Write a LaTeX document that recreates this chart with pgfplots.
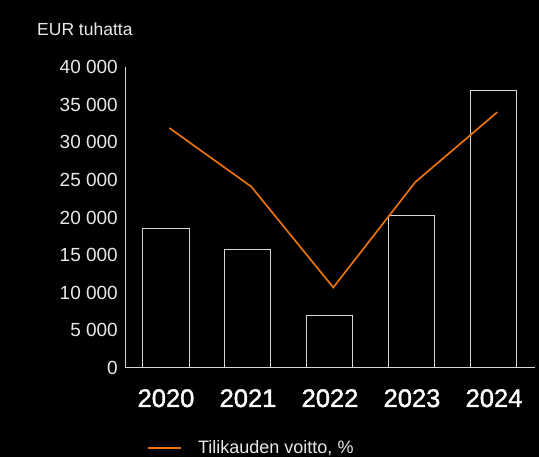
\documentclass[border=0pt]{standalone}
\usepackage{pgfplots}
\pgfplotsset{compat=1.18}
\usepackage{fontspec}
\setmainfont{Liberation Sans}
\newfontfamily\yearfont[FakeBold=1.5]{Liberation Sans}

\definecolor{txt}{RGB}{232,232,232}
\definecolor{axgray}{RGB}{215,215,215}
\definecolor{voitto}{RGB}{232,114,12}

\begin{document}
\begin{tikzpicture}
\useasboundingbox (0,0) rectangle (539pt,457pt);
\fill[black] (0,0) rectangle (539pt,457pt);

\node[anchor=base west, inner sep=0pt, text=txt, font=\fontsize{17.5}{20}\selectfont]
  at (37pt,421pt) {EUR tuhatta};

% bars (EUR thousands)
\begin{axis}[
    at={(125pt,89pt)},
    anchor=south west,
    scale only axis,
    width=410pt,
    height=301pt,
    xmin=-0.5, xmax=4.5,
    ymin=0, ymax=40000,
    axis x line=bottom,
    axis y line=left,
    axis line style={axgray, line width=1pt, -},
    xtick={0,1,2,3,4},
    xticklabels={2020,2021,2022,2023,2024},
    ytick={0,5000,10000,15000,20000,25000,30000,35000,40000},
    major tick length=0pt,
    scaled y ticks=false,
    /pgf/number format/assume math mode=true,
    /pgf/number format/1000 sep={\ },
    yticklabel style={text=txt, inner sep=0pt, anchor=east, xshift=-7pt,
        font=\fontsize{19}{20}\selectfont},
    xticklabel style={text=white, inner sep=0pt, anchor=north, yshift=-21pt,
        font=\yearfont\fontsize{25.5}{28}\selectfont},
    ybar,
    bar width=46pt,
]
\addplot[draw=axgray, fill=black, line width=1pt] coordinates {
(0,18600)
(1,15700)
(2,7000)
(3,20200)
(4,36900)
};
\end{axis}

% profit line (%), hidden secondary scale
\begin{axis}[
    at={(125pt,89pt)},
    anchor=south west,
    scale only axis,
    width=410pt,
    height=301pt,
    xmin=-0.5, xmax=4.5,
    ymin=0, ymax=40,
    hide axis,
    legend style={
        at={(0.053,-0.266)},
        anchor=west,
        draw=none,
        fill=none,
        inner sep=0pt,
        outer sep=0pt,
        nodes={inner sep=0pt, text=txt, font=\fontsize{18}{20}\selectfont},
        /tikz/every odd column/.append style={column sep=16.7pt},
    },
    legend image code/.code={\draw[#1] (0pt,0pt) -- (33pt,0pt);},
]
\addplot[voitto, line width=1.7pt] coordinates {
(0.04,31.9)
(1.04,24.1)
(2.04,10.7)
(3.04,24.7)
(4.04,34.0)
};
\addlegendentry{Tilikauden voitto, \%}
\end{axis}
\end{tikzpicture}
\end{document}
